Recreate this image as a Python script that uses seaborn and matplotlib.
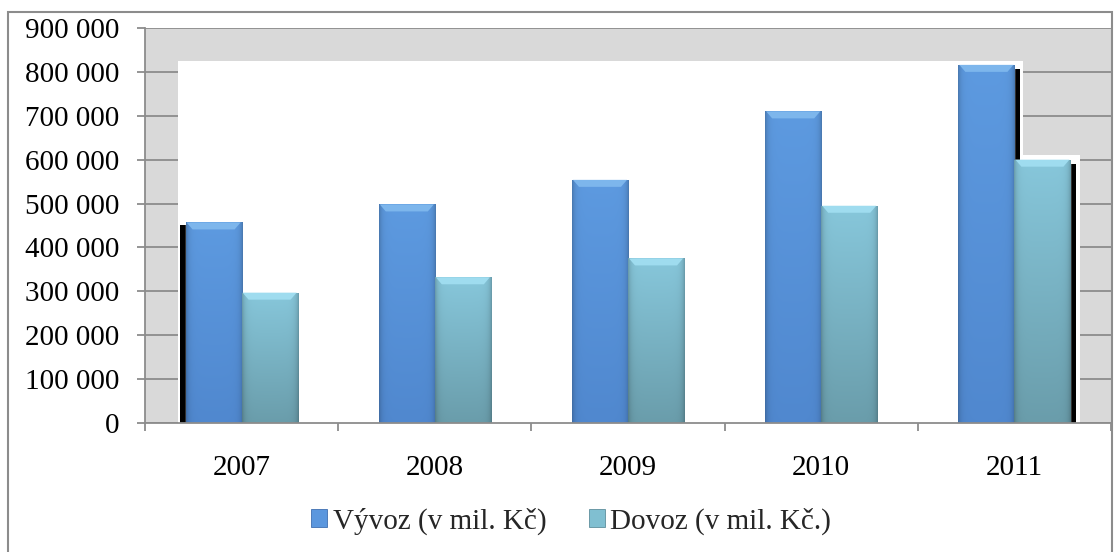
import matplotlib.pyplot as plt
import matplotlib.patches as mpatches
import matplotlib.ticker as mticker
import matplotlib.colors as mcolors
import seaborn as sns
import numpy as np
import pandas as pd

# data
roky = ["2007", "2008", "2009", "2010", "2011"]
vyvoz = [457000, 498000, 554000, 710000, 816000]
dovoz = [297000, 332000, 375000, 495000, 600000]
serie = ["Vývoz (v mil. Kč)", "Dovoz (v mil. Kč.)"]
barvy = ["#5b97de", "#80bfd1"]

df = pd.DataFrame({"rok": roky * 2,
                   "hodnota": vyvoz + dovoz,
                   "serie": [serie[0]] * len(roky) + [serie[1]] * len(roky)})

sns.set_theme(style="white")
plt.rcParams['font.family'] = ['Liberation Serif', 'DejaVu Serif']

W, H = 1115, 552
fig = plt.figure(figsize=(W / 100, H / 100), dpi=100)
ax = fig.add_axes([145 / W, 1 - 423 / H, 966 / W, 395 / H])
ax.set_facecolor('#d9d9d9')

sns.barplot(data=df, x="rok", y="hodnota", hue="serie", palette=barvy,
            width=0.58, edgecolor="white", linewidth=1.0, legend=False,
            zorder=2, ax=ax)

# gradient shading (Excel-like) on each bar
grad_cols = [(("#5088cf", "#5d9ae0"), "#7db6ec"),
             (("#6a9dab", "#87c7db"), "#9fdcef")]
px_x = 966 / len(roky)          # pixels per category
px_y = 395 / 900000             # pixels per unit
for ci, cont in enumerate(ax.containers):
    (c_bot, c_top), c_bev = grad_cols[ci]
    cb = np.array(mcolors.to_rgb(c_bot))
    ct = np.array(mcolors.to_rgb(c_top))
    for bar in cont:
        x0, w, h = bar.get_x(), bar.get_width(), bar.get_height()
        t = np.linspace(0, 1, 100)[:, None, None]          # 0 bottom, 1 top
        s = np.linspace(0, 1, 60)[None, :, None]
        col = cb + (ct - cb) * t
        edge = np.minimum(s, 1 - s)
        col = col * (1 - 0.2 * np.exp(-edge / 0.05))
        img = np.clip(col, 0, 1)[::-1]
        im = ax.imshow(img, extent=[x0, x0 + w, 0, h], aspect='auto',
                       zorder=2.1, interpolation='bilinear')
        im.set_clip_path(bar)
        # top bevel
        bv = 7 / px_y
        dx = 7 / px_x
        ax.add_patch(mpatches.Polygon([[x0 + 1 / px_x, h], [x0 + w - 1 / px_x, h],
                                       [x0 + w - dx, h - bv], [x0 + dx, h - bv]],
                                      closed=True, color=c_bev, lw=0, zorder=2.2))

ax.set_xlim(-0.5, len(roky) - 0.5)
ax.set_ylim(0, 900000)

# white backdrop left by the 3D rendering
b_first = ax.containers[0][0]
b_last_v = ax.containers[0][-1]
b_last_d = ax.containers[1][-1]
left = b_first.get_x() - 8 / px_x
ax.add_patch(mpatches.Rectangle((left, 0), b_last_v.get_x() + b_last_v.get_width() + 9 / px_x - left,
                                max(vyvoz) + 4 / px_y, color='white', lw=0, zorder=1))
ax.add_patch(mpatches.Rectangle((b_last_d.get_x(), 0), b_last_d.get_width() + 10 / px_x,
                                dovoz[-1] + 5 / px_y, color='white', lw=0, zorder=1))

# black depth strips
sw = 6 / px_x
ax.add_patch(mpatches.Rectangle((b_first.get_x() - sw, 0), sw, vyvoz[0] - 3 / px_y,
                                color='black', lw=0, zorder=1.5))
for bar, val in [(b_last_v, vyvoz[-1]), (b_last_d, dovoz[-1])]:
    ax.add_patch(mpatches.Rectangle((bar.get_x() + bar.get_width(), 0), sw, val - 4 / px_y,
                                    color='black', lw=0, zorder=1.5))

# grid, spines, ticks
ax.set_axisbelow(True)
ax.yaxis.set_major_locator(mticker.MultipleLocator(100000))
ax.yaxis.set_major_formatter(mticker.FuncFormatter(lambda v, p: f"{int(v):,}".replace(",", " ")))
ax.grid(axis='y', color='#8c8c8c', lw=1.3, zorder=0.5)
ax.grid(axis='x', visible=False)
for s in ['top', 'right']:
    ax.spines[s].set_visible(False)
for s in ['left', 'bottom']:
    ax.spines[s].set_color('#8c8c8c')
    ax.spines[s].set_linewidth(1.3)
ax.tick_params(axis='y', length=5.8, width=1.3, color='#8c8c8c', direction='out',
               pad=13, labelsize=21, left=True)
ax.set_xticks(range(len(roky)))
ax.set_xticklabels(roky)
ax.set_xticks(np.arange(-0.5, len(roky), 1.0), minor=True)
ax.tick_params(axis='x', which='major', length=0, pad=23, labelsize=21)
ax.tick_params(axis='x', which='minor', length=5.8, width=1.3, color='#8c8c8c',
               direction='out', bottom=True)
for lab in ax.get_xticklabels() + ax.get_yticklabels():
    lab.set_color('black')
ax.set_xlabel("")
ax.set_ylabel("")

# legend
handles = [mpatches.Patch(facecolor=barvy[0], edgecolor='#3f6fb0', lw=0.6),
           mpatches.Patch(facecolor=barvy[1], edgecolor='#5e8f9c', lw=0.6)]
fig.legend(handles, serie, loc='center', bbox_to_anchor=(571 / W, 1 - 521 / H),
           ncol=2, frameon=False, fontsize=21, handlelength=0.55, handleheight=0.55,
           handletextpad=0.2, columnspacing=1.45, borderpad=0, borderaxespad=0)

# outer chart border
fig.patches.append(mpatches.Rectangle((8 / W, -0.01), 1104 / W, (H - 12) / H + 0.01,
                                      transform=fig.transFigure, fill=False,
                                      edgecolor='#8c8c8c', lw=1.5))

fig.savefig("out.png", dpi=100)
